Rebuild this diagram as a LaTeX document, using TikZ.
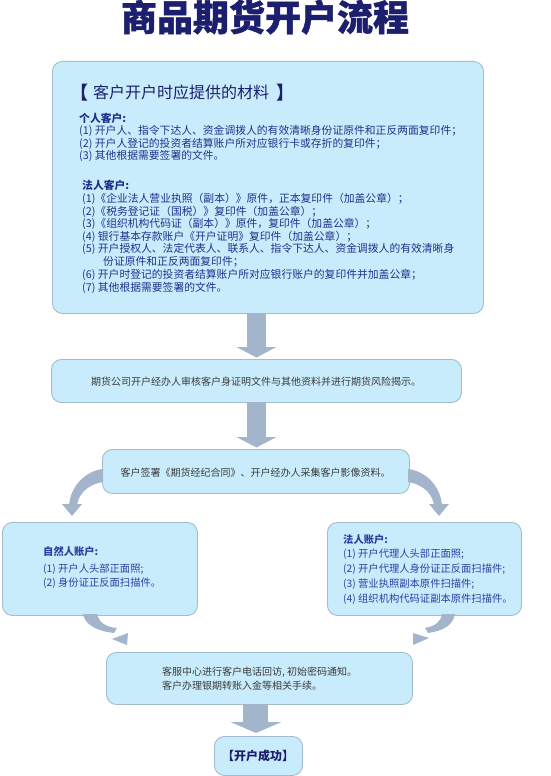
\documentclass[tikz,border=0pt]{standalone}
\usepackage{fontspec}
\setmainfont{Noto Sans CJK SC}
\newfontfamily\titlefont[BoldFeatures={FakeBold=1.2}]{Noto Sans CJK SC}
\usetikzlibrary{arrows.meta,calc}
\definecolor{boxfill}{HTML}{C8ECFB}
\definecolor{boxline}{HTML}{A3BCCB}
\definecolor{arrowc}{HTML}{A3B5CB}
\definecolor{navy}{HTML}{1B1F6E}
\definecolor{tblue}{HTML}{1E338C}
\definecolor{lblue}{HTML}{2742A3}
\definecolor{tgray}{HTML}{3C3C3C}
\newcommand\fsz[1]{\fontsize{#1}{#1}\selectfont}
\begin{document}
\begin{tikzpicture}[x=1pt,y=-1pt,
  box/.style={draw=boxline, fill=boxfill, line width=0.9pt, rounded corners=10pt, inner sep=0pt, anchor=north west},
  txt/.style={inner sep=0pt, anchor=base west},
  topt/.style={txt, text=tblue, font=\fsz{10.8}},
  sidet/.style={txt, text=lblue, font=\fsz{10.3}},
  grayt/.style={inner sep=0pt, text=tgray, font=\fsz{10}},
  crescent/.style={fill=arrowc, draw=none}
]
\useasboundingbox (0,0) rectangle (550,776);

% title
\node[inner sep=0pt, anchor=base, text=navy, font=\titlefont\fsz{36}\bfseries] (title) at (265,30.8) {商品期货开户流程};

% boxes
\node[box, minimum width=431pt, minimum height=252pt] (top) at (52,61) {};
\node[box, minimum width=410pt, minimum height=43pt] (b2) at (51,359) {};
\node[box, minimum width=307pt, minimum height=44pt] (b3) at (102,449) {};
\node[box, minimum width=195pt, minimum height=93pt] (lb) at (2,522) {};
\node[box, minimum width=194pt, minimum height=93pt] (rb) at (327,522) {};
\node[box, minimum width=306pt, minimum height=52pt] (bb) at (106,652) {};
\node[box, minimum width=88pt, minimum height=39pt] (fin) at (214,736) {};

% straight block arrows
\fill[arrowc] ($(top.south -| b2.north)+(-9.5,-1)$) rectangle ($(b2.north)+(9.5,-12)$);
\fill[arrowc] ($(b2.north)+(-20,-12)$) -- ($(b2.north)+(20,-12)$) -- ($(b2.north)+(0,-1.5)$) -- cycle;
\fill[arrowc] ($(b2.south)+(-9.5,-1)$) rectangle ($(b3.north -| b2.south)+(9.5,-12)$);
\fill[arrowc] ($(b3.north -| b2.south)+(-20,-12)$) -- ($(b3.north -| b2.south)+(20,-12)$) -- ($(b3.north -| b2.south)+(0,-1.5)$) -- cycle;
\coordinate (a4s) at ($(bb.south)+(-3.5,0)$);
\coordinate (a4e) at ($(fin.north)+(-2.5,0)$);
\fill[arrowc] ($(a4s)+(-12.5,-1)$) rectangle ($(a4e |- 0,722)+(12.5,0)$);
\fill[arrowc] ($(a4e |- 0,722)+(-25.5,0)$) -- ($(a4e |- 0,722)+(25.5,0)$) -- ($(a4e)+(0,-3)$) -- cycle;

% curved arrows from b3
\fill[crescent] (103,469) .. controls (86,471) and (71,485) .. (69,505) -- (77,505) .. controls (79,492) and (90,484) .. (103,482) -- cycle;
\fill[crescent] (62,504) -- (82,504) -- (72,516) -- cycle;
\fill[crescent] (408,469) .. controls (425,471) and (440,485) .. (442,505) -- (434,505) .. controls (432,492) and (421,484) .. (408,482) -- cycle;
\fill[crescent] (429,504) -- (449,504) -- (439,516) -- cycle;

% curved arrows into bb
\fill[crescent] (83,614) .. controls (85,625) and (97,631) .. (114,633) -- (117,628) .. controls (105,627) and (99,622) .. (97,614) -- cycle;
\fill[crescent] (112,639) -- (128,633) -- (127,645) -- cycle;
\fill[crescent] (455,614) .. controls (453,626) and (442,631) .. (428,633) -- (425,628) .. controls (436,626) and (441,621) .. (442,614) -- cycle;
\fill[crescent] (413,633) -- (429,638) -- (413,645) -- cycle;

% top box text
\node[inner sep=0pt, anchor=base, text=navy, font=\fsz{18}\bfseries] (lbr) at (79,99.5) {【};
\node[txt, text=navy, font=\fsz{16}] (head) at (93,98.8) {客户开户时应提供的材料};
\node[inner sep=0pt, anchor=base, text=navy, font=\fsz{18}\bfseries] (rbr) at (285,99.5) {】};

\node[topt, font=\fsz{10.8}\bfseries] (ind) at (79,122.2) {个人客户:};
\node[topt] (ind1) at (79,134.6) {(1) 开户人、指令下达人、资金调拨人的有效清晰身份证原件和正反两面复印件；};
\node[topt] (ind2) at (79,147) {(2) 开户人登记的投资者结算账户所对应银行卡或存折的复印件；};
\node[topt] (ind3) at (79,159.4) {(3) 其他根据需要签署的文件。};

\node[topt, font=\fsz{10.8}\bfseries] (leg) at (82,189.5) {法人客户:};
\node[topt] (leg1) at (82,202.7) {(1)《企业法人营业执照（副本）》原件，正本复印件（加盖公章）；};
\node[topt] (leg2) at (82,215.3) {(2)《税务登记证（国税）》复印件（加盖公章）；};
\node[topt] (leg3) at (82,227.8) {(3)《组织机构代码证（副本）》原件，复印件（加盖公章）；};
\node[topt] (leg4) at (82,240.3) {(4) 银行基本存款账户《开户证明》复印件（加盖公章）；};
\node[topt] (leg5) at (82,252.8) {(5) 开户授权人、法定代表人、联系人、指令下达人、资金调拨人的有效清晰身};
\node[topt] (leg5b) at (103,265.5) {份证原件和正反两面复印件；};
\node[topt] (leg6) at (82,278.6) {(6) 开户时登记的投资者结算账户所对应银行账户的复印件并加盖公章；};
\node[topt] (leg7) at (82,291) {(7) 其他根据需要签署的文件。};

% middle boxes text
\node[grayt, anchor=base] (t2) at (256,385.6) {期货公司开户经办人审核客户身证明文件与其他资料并进行期货风险揭示。};
\node[grayt, anchor=base] (t3) at (255.5,476.9) {客户签署《期货经纪合同》、开户经办人采集客户影像资料。};

% side boxes text
\node[sidet, font=\fsz{10.3}\bfseries] (lbh) at (43,555.7) {自然人账户:};
\node[sidet] (lb1) at (43,572.7) {(1) 开户人头部正面照;};
\node[sidet] (lb2) at (43,586.7) {(2) 身份证正反面扫描件。};

\node[sidet, font=\fsz{10.3}\bfseries] (rbh) at (343,543.8) {法人账户:};
\node[sidet] (rb1) at (343,557.8) {(1) 开户代理人头部正面照;};
\node[sidet] (rb2) at (343,572.8) {(2) 开户代理人身份证正反面扫描件;};
\node[sidet] (rb3) at (343,587.1) {(3) 营业执照副本原件扫描件;};
\node[sidet] (rb4) at (343,602.1) {(4) 组织机构代码证副本原件扫描件。};

% bottom box text
\node[grayt, anchor=base west] (bb1) at (162,675.9) {客服中心进行客户电话回访, 初始密码通知。};
\node[grayt, anchor=base west] (bb2) at (162,689.6) {客户办理银期转账入金等相关手续。};

\node[inner sep=0pt, anchor=base, text=navy, font=\fsz{12}\bfseries] (fint) at (258,760.3) {【开户成功】};
\end{tikzpicture}
\end{document}
